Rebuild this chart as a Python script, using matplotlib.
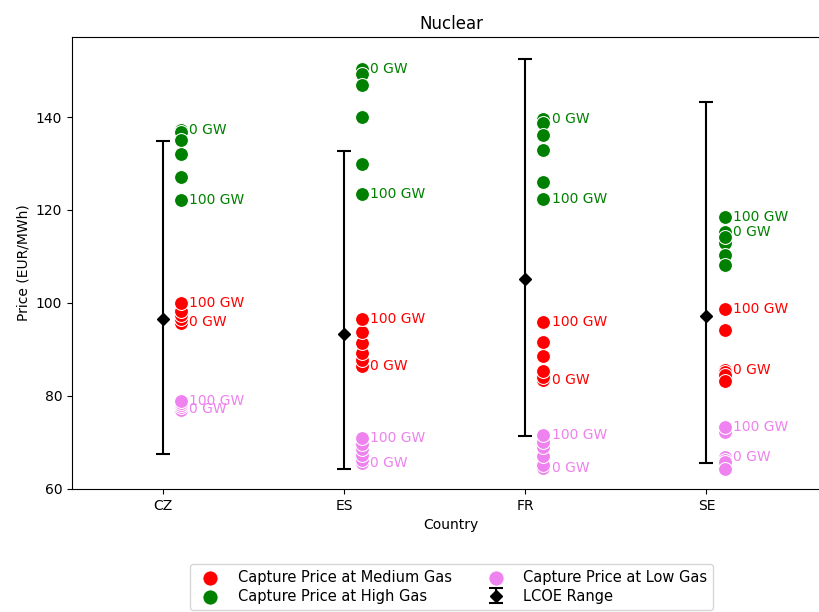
import numpy as np
import matplotlib
matplotlib.use("Agg")
import matplotlib.pyplot as plt

# Capture prices (EUR/MWh) for nuclear, by country, at 0, 20, 40, 60, 80, 100 GW
countries = ["CZ", "ES", "FR", "SE"]
capacity_labels = ["0 GW", "20 GW", "40 GW", "60 GW", "80 GW", "100 GW"]

medium_gas = [
    [96.0, 95.6, 96.6, 97.4, 98.2, 99.9],
    [86.5, 87.7, 89.2, 91.3, 93.7, 96.5],
    [83.5, 84.0, 85.4, 88.5, 91.7, 96.0],
    [85.6, 85.2, 84.6, 83.3, 94.1, 98.7],
]
high_gas = [
    [137.3, 136.8, 135.0, 132.0, 127.0, 122.2],
    [150.3, 149.3, 146.9, 140.1, 129.8, 123.4],
    [139.5, 138.8, 136.1, 132.9, 126.1, 122.4],
    [115.2, 113.0, 114.1, 110.3, 108.2, 118.5],
]
low_gas = [
    [77.3, 77.0, 77.6, 78.0, 78.4, 78.9],
    [65.6, 66.3, 67.4, 68.6, 69.6, 70.9],
    [64.5, 65.1, 67.0, 69.1, 70.0, 71.6],
    [66.8, 66.2, 65.8, 72.2, 64.3, 73.3],
]

# LCOE mid value and range per country
lcoe_mid = [96.6, 93.3, 105.2, 97.2]
lcoe_low = [67.5, 64.3, 71.4, 65.6]
lcoe_high = [134.8, 132.7, 152.5, 143.2]

fig = plt.figure(figsize=(8.2, 6.12), dpi=100)
ax = fig.add_axes([0.0878, 0.201, 0.925, 0.7385])

x = np.arange(len(countries))
series = [
    (medium_gas, "red", "Capture Price at Medium Gas"),
    (high_gas, "green", "Capture Price at High Gas"),
    (low_gas, "violet", "Capture Price at Low Gas"),
]

for values, color, label in series:
    for i, vals in enumerate(values):
        ax.scatter([x[i] + 0.1] * len(vals), vals, s=100, color=color,
                   edgecolor="white", linewidth=0.75,
                   label=label if i == 0 else None, zorder=3)
        # annotate the lowest and highest capacity points
        for j in (0, len(vals) - 1):
            ax.text(x[i] + 0.145, vals[j], capacity_labels[j], color=color,
                    fontsize=10, va="center", ha="left", zorder=4)

lower_err = np.array(lcoe_mid) - np.array(lcoe_low)
upper_err = np.array(lcoe_high) - np.array(lcoe_mid)
ax.errorbar(x, lcoe_mid, yerr=[lower_err, upper_err], fmt="D", color="black",
            ecolor="black", capsize=5, markersize=6, elinewidth=1.5,
            capthick=1.5, label="LCOE Range", zorder=2)

ax.set_xticks(x)
ax.set_xticklabels(countries)
ax.set_xlim(-0.503, 3.685)
ax.set_ylim(60, 157.2)
ax.set_yticks([60, 80, 100, 120, 140])
ax.set_xlabel("Country")
ax.set_ylabel("Price (EUR/MWh)")
ax.set_title("Nuclear")

fig.legend(loc="upper center", bbox_to_anchor=(0.5507, 0.09), ncol=2,
           fontsize=10.5, markerscale=1.1, handletextpad=0.9,
           borderpad=0.4, labelspacing=0.25)

fig.savefig("out.png", dpi=100)
